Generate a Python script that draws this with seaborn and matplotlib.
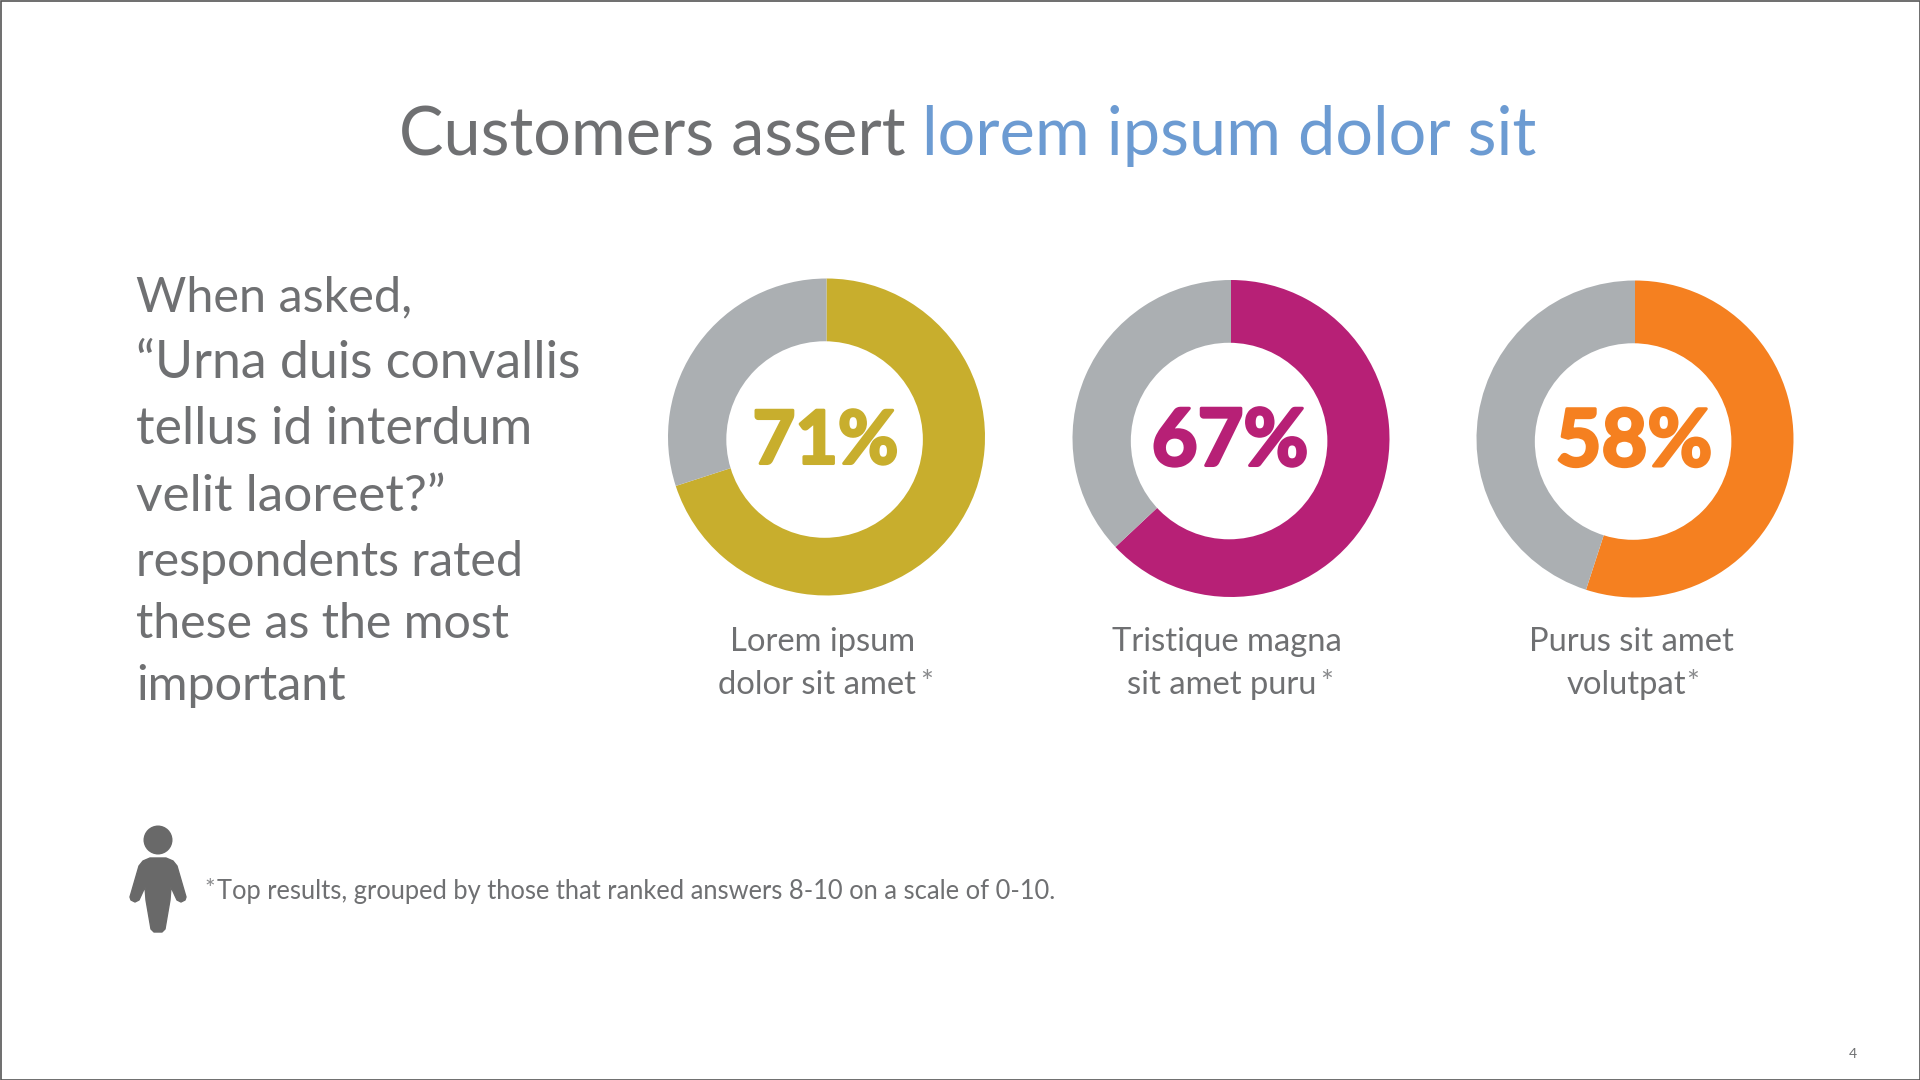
import seaborn as sns
import matplotlib.pyplot as plt
import matplotlib.patheffects as pe
from matplotlib.patches import Circle, Polygon

sns.set_theme(style="white")
plt.rcParams['font.family'] = ['Lato', 'DejaVu Sans']

# data - the drawn arcs do not match the printed labels in the original
values = [70, 63, 55]
pct_labels = ["71%", "67%", "58%"]
ring_colors = ["#C8AE2D", "#B72076", "#F58020"]
rest_color = "#ABAFB2"
name_top = ["Lorem ipsum", "Tristique magna", "Purus sit amet"]
name_bottom = ["dolor sit amet", "sit amet puru", "volutpat"]
left_lines = ["When asked,", "\u201cUrna duis convallis", "tellus id interdum", "velit laoreet?\u201d",
              "respondents rated", "these as the most", "important"]

# layout
left_y = [297, 363, 430, 497, 562, 624, 686]
left_size = [35, 37.4, 37.4, 37, 34.8, 34.8, 35]
centers = [(826.5, 437), (1231, 438.5), (1635, 439)]
pct_size = [53, 57, 57]
star_x = [920, 1320, 1686]

grey = "#6F7072"
fig = plt.figure(figsize=(19.2, 10.8), dpi=100, facecolor="white")

# page layer in pixel coords, on top of the donuts
page = fig.add_axes([0, 0, 1, 1])
page.set_xlim(0, 1920)
page.set_ylim(1080, 0)
page.axis("off")
page.set_zorder(10)
page.add_patch(plt.Rectangle((0.5, 0.5), 1919, 1079, fill=False, ec="#555555", lw=1.2))

# title, two colours
t1 = page.text(399, 136, "Customers assert ", fontsize=48, color=grey, va="center", ha="left")
fig.canvas.draw()
bb = t1.get_window_extent()
page.text(bb.x1, 136, "lorem ipsum dolor sit", fontsize=48, color="#6C9BD2", va="center", ha="left")

for line, y, s in zip(left_lines, left_y, left_size):
    page.text(136, y, line, fontsize=s, color=grey, va="center", ha="left")

# donuts
R = 158.5
for i in range(3):
    cx, cy = centers[i]
    ax = fig.add_axes([(cx - R) / 1920, 1 - (cy + R) / 1080, 2 * R / 1920, 2 * R / 1080])
    ax.pie([values[i], 100 - values[i]], colors=[ring_colors[i], rest_color], startangle=90,
           counterclock=False, radius=1, wedgeprops=dict(linewidth=0))
    # hole sits a little off centre in the original
    ax.add_patch(Circle((-0.012, -0.016), 0.62, fc="white", ec="none", zorder=3))
    ax.set_xlim(-1, 1)
    ax.set_ylim(-1, 1)
    txt = page.text(cx - 1, cy + 5, pct_labels[i], fontsize=pct_size[i], fontweight="bold", color=ring_colors[i],
                    ha="center", va="center", zorder=5)
    txt.set_path_effects([pe.withStroke(linewidth=2.2, foreground=ring_colors[i])])
    page.text(cx - 4, 642, name_top[i], fontsize=23.6, color=grey, ha="center", va="center")
    page.text(cx - 9, 685, name_bottom[i], fontsize=23.6, color=grey, ha="center", va="center")
    page.text(star_x[i], 683, "*", fontsize=22, color="#8A8B8D", ha="left", va="center")

# footnote
page.text(204, 889, "*", fontsize=18, color="#8A8B8D", ha="left", va="center")
page.text(217, 891, "Top results, grouped by those that ranked answers 8-10 on a scale of 0-10.",
          fontsize=18.4, color=grey, ha="left", va="center")

# person icon
icon = "#696969"
page.add_patch(Circle((158, 840), 14.5, fc=icon, ec="none"))
page.add_patch(Polygon([(143, 861), (150, 858), (166, 858), (173, 861), (177, 866), (186, 897), (185, 900),
                        (181, 902), (177, 900), (171, 887), (170, 900), (165, 929), (162, 932), (154, 932),
                        (151, 929), (146, 900), (145, 887), (139, 900), (135, 902), (131, 900), (130, 897),
                        (139, 866)], closed=True, fc=icon, ec=icon, lw=1, joinstyle="round"))

page.text(1853, 1054, "4", fontsize=10, color=grey, ha="center", va="center")

fig.savefig("out.png", dpi=100)
